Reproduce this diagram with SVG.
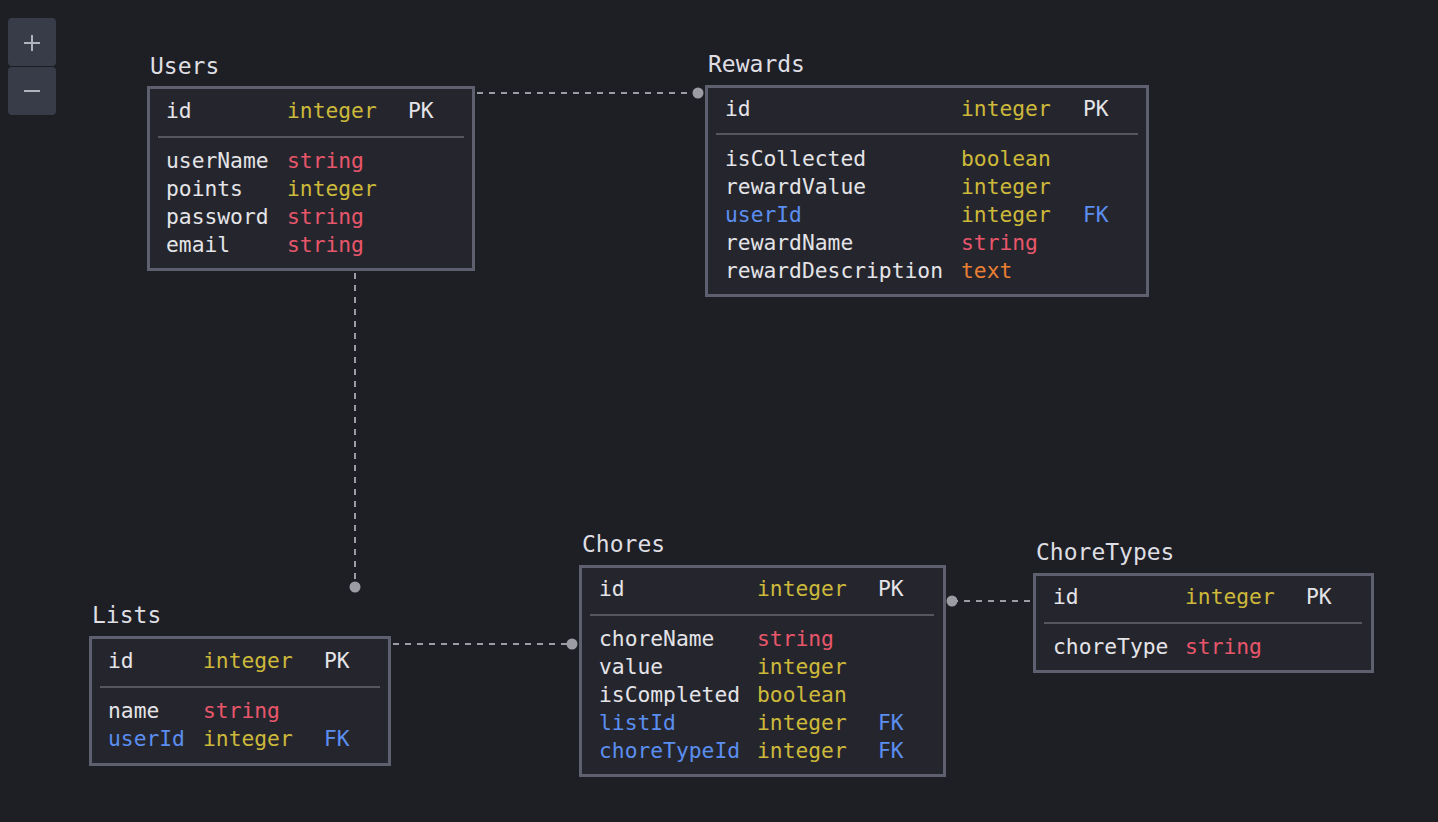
<svg xmlns="http://www.w3.org/2000/svg" width="1438" height="822" viewBox="0 0 1438 822">
<style>
text{font-family:"DejaVu Sans Mono","Liberation Mono",monospace;font-size:21.3px;fill:#e4e4e8}
.title{font-size:23px;fill:#dedee3}
.box{fill:#25262d;stroke:#5f606f;stroke-width:3}
.sep{stroke:#55565f;stroke-width:2}
.y{fill:#cdb93a}
.r{fill:#e9566b}
.b{fill:#5b8ef0}
.o{fill:#ea7f33}
.conn{stroke:#9b9ca4;stroke-width:2;stroke-dasharray:6 6;fill:none}
.dot{fill:#9b9ca4}
.btn{fill:#383c48}
.glyph{stroke:#b0b3bc;stroke-width:2}
</style>
<rect width="1438" height="822" fill="#1e1f25"/>
<g id="zoom-controls">
<rect class="btn" x="8" y="18" width="48" height="48" rx="4"/>
<rect class="btn" x="8" y="67" width="48" height="48" rx="4"/>
<line class="glyph" x1="24" y1="43" x2="40" y2="43"/>
<line class="glyph" x1="32" y1="35" x2="32" y2="51"/>
<line class="glyph" x1="24" y1="91" x2="40" y2="91"/>
</g>
<g id="connectors">
<line class="conn" x1="477" y1="93" x2="698" y2="93"/>
<circle class="dot" cx="698" cy="93" r="5.5"/>
<line class="conn" x1="355" y1="273" x2="355" y2="587"/>
<circle class="dot" cx="355" cy="587" r="5.5"/>
<line class="conn" x1="393" y1="644" x2="572" y2="644"/>
<circle class="dot" cx="572" cy="644" r="5.5"/>
<line class="conn" x1="952" y1="601" x2="1032" y2="601"/>
<circle class="dot" cx="952" cy="601" r="5.5"/>
</g>
<g id="Users">
<text class="title" x="150" y="74">Users</text>
<rect class="box" x="148.5" y="87.5" width="325" height="182"/>
<text x="166" y="118">id</text><text class="y" x="287" y="118">integer</text><text x="408" y="118">PK</text>
<line class="sep" x1="158" y1="137" x2="464" y2="137"/>
<text x="166" y="168">userName</text><text class="r" x="287" y="168">string</text>
<text x="166" y="196">points</text><text class="y" x="287" y="196">integer</text>
<text x="166" y="224">password</text><text class="r" x="287" y="224">string</text>
<text x="166" y="252">email</text><text class="r" x="287" y="252">string</text>
</g>
<g id="Rewards">
<text class="title" x="708" y="72">Rewards</text>
<rect class="box" x="706.5" y="86.5" width="441" height="209"/>
<text x="725" y="116">id</text><text class="y" x="961" y="116">integer</text><text x="1083" y="116">PK</text>
<line class="sep" x1="716" y1="134" x2="1138" y2="134"/>
<text x="725" y="166">isCollected</text><text class="y" x="961" y="166">boolean</text>
<text x="725" y="194">rewardValue</text><text class="y" x="961" y="194">integer</text>
<text class="b" x="725" y="222">userId</text><text class="y" x="961" y="222">integer</text><text class="b" x="1083" y="222">FK</text>
<text x="725" y="250">rewardName</text><text class="r" x="961" y="250">string</text>
<text x="725" y="278">rewardDescription</text><text class="o" x="961" y="278">text</text>
</g>
<g id="Lists">
<text class="title" x="92" y="623">Lists</text>
<rect class="box" x="90.5" y="637.5" width="299" height="127"/>
<text x="108" y="668">id</text><text class="y" x="203" y="668">integer</text><text x="324" y="668">PK</text>
<line class="sep" x1="100" y1="687" x2="380" y2="687"/>
<text x="108" y="718">name</text><text class="r" x="203" y="718">string</text>
<text class="b" x="108" y="746">userId</text><text class="y" x="203" y="746">integer</text><text class="b" x="324" y="746">FK</text>
</g>
<g id="Chores">
<text class="title" x="582" y="552">Chores</text>
<rect class="box" x="580.5" y="566.5" width="364" height="209"/>
<text x="599" y="596">id</text><text class="y" x="757" y="596">integer</text><text x="878" y="596">PK</text>
<line class="sep" x1="590" y1="615" x2="934" y2="615"/>
<text x="599" y="646">choreName</text><text class="r" x="757" y="646">string</text>
<text x="599" y="674">value</text><text class="y" x="757" y="674">integer</text>
<text x="599" y="702">isCompleted</text><text class="y" x="757" y="702">boolean</text>
<text class="b" x="599" y="730">listId</text><text class="y" x="757" y="730">integer</text><text class="b" x="878" y="730">FK</text>
<text class="b" x="599" y="758">choreTypeId</text><text class="y" x="757" y="758">integer</text><text class="b" x="878" y="758">FK</text>
</g>
<g id="ChoreTypes">
<text class="title" x="1036" y="560">ChoreTypes</text>
<rect class="box" x="1034.5" y="574.5" width="338" height="97"/>
<text x="1053" y="604">id</text><text class="y" x="1185" y="604">integer</text><text x="1306" y="604">PK</text>
<line class="sep" x1="1044" y1="623" x2="1362" y2="623"/>
<text x="1053" y="654">choreType</text><text class="r" x="1185" y="654">string</text>
</g>
</svg>
